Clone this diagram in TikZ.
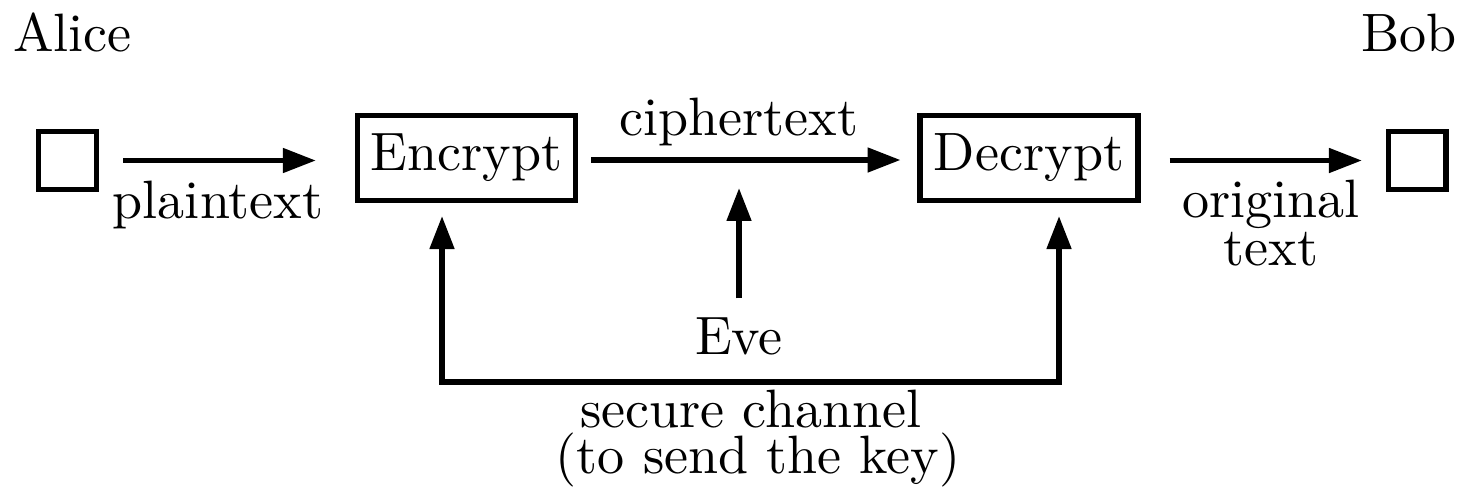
\documentclass[tikz,border=0pt]{standalone}
\usetikzlibrary{arrows.meta}
\begin{document}
\begin{tikzpicture}[x=0.185pt, y=-0.185pt,
  every node/.style={inner sep=0pt, outer sep=0pt},
  party/.style={draw, line width=1pt, minimum width=10.66pt, minimum height=10.66pt},
  opbox/.style={draw, line width=1pt, minimum width=40.33pt, minimum height=15.73pt},
  lbl/.style={anchor=base},
  arr/.style={line width=1pt, -{Triangle[length=6.1pt, width=4.4pt]}},
  keyline/.style={line width=1pt, line join=miter,
    {Triangle[length=6.1pt, width=4.4pt]}-{Triangle[length=6.1pt, width=4.4pt]}}]
  \useasboundingbox (0,0) rectangle (1464,490);

  % the two parties
  \node[anchor=base west] (alice) at (13,51) {Alice};
  \node[anchor=base east] (bob) at (1457,51) {Bob};
  \node[party] (abox) at (67.5,160.5) {};
  \node[party] (bbox) at (1417,160.5) {};

  % encryption and decryption stages
  \node[opbox] (enc) at (466.5,158) {Encrypt};
  \node[opbox] (dec) at (1029,158) {Decrypt};

  % message flow
  \draw[arr, shorten <=4.95pt, shorten >=7.7pt] (abox.east) -- (abox.east -| enc.west);
  \node[lbl] (plain) at (218,218) {plaintext};

  \draw[arr, shorten <=2.87pt, shorten >=3.6pt] (enc.east |- 0,160) -- (dec.west |- 0,160);
  \node[lbl] (cipher) at (739,135) {ciphertext};

  \draw[arr, shorten <=5.83pt, shorten >=4.86pt] (dec.east |- abox.east) -- (bbox.west);
  \node[lbl] (orig1) at (1271,217) {original};
  \node[lbl] (orig2) at (1271,265) {text};

  % eavesdropper
  \node[lbl] (eve) at (739,354) {Eve};
  \coordinate (tap) at (739,188);
  \draw[arr, shorten <=3.5pt] (eve.north) -- (tap);

  % key exchange
  \coordinate (keyL) at (442,382);
  \coordinate (keyR) at (1059,382);
  \draw[keyline, shorten <=2.87pt, shorten >=2.87pt]
    (keyL |- enc.south) -- (keyL) -- (keyR) -- (keyR |- dec.south);
  \node[lbl] (sc1) at (751,427) {secure channel};
  \node[lbl] (sc2) at (758,473) {(to send the key)};
\end{tikzpicture}
\end{document}
